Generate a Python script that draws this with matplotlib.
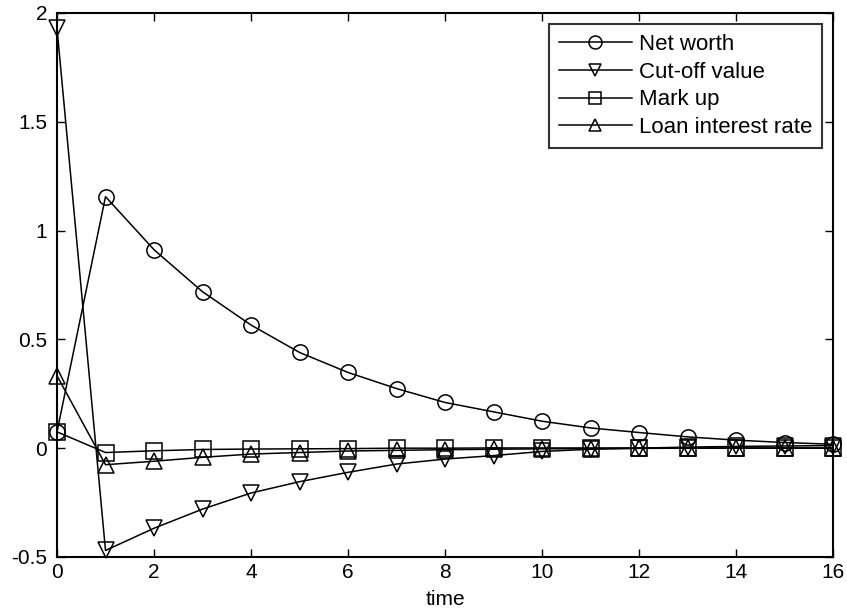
import matplotlib.pyplot as plt

# values
t = list(range(17))
net_worth = [0.075, 1.156, 0.912, 0.719, 0.566, 0.44, 0.348, 0.274, 0.21,
             0.167, 0.124, 0.093, 0.072, 0.052, 0.037, 0.026, 0.018]
cut_off = [1.93, -0.47, -0.368, -0.28, -0.206, -0.154, -0.111, -0.073, -0.05,
           -0.034, -0.015, -0.005, 0.0, 0.005, 0.008, 0.01, 0.012]
mark_up = [0.075, -0.02, -0.012, -0.006, -0.004, -0.003, -0.002, 0.0, 0.0,
           0.001, 0.001, 0.001, 0.001, 0.001, 0.001, 0.001, 0.001]
loan_rate = [0.333, -0.076, -0.06, -0.042, -0.027, -0.02, -0.013, -0.01, -0.007,
             -0.005, -0.003, -0.002, -0.001, 0.0, 0.0, 0.0, 0.0]

series = [
    ("Net worth", net_worth, "o"),
    ("Cut-off value", cut_off, "v"),
    ("Mark up", mark_up, "s"),
    ("Loan interest rate", loan_rate, "^"),
]

plt.rcParams['font.family'] = ['Liberation Sans', 'DejaVu Sans']

fig = plt.figure(figsize=(8.47, 6.12), dpi=100)
ax = fig.add_axes([0.0673, 0.0899, 0.9162, 0.8889])

for label, vals, mk in series:
    ax.plot(t, vals, color="black", linewidth=1.1, marker=mk, markersize=11,
            markerfacecolor="none", markeredgecolor="black", markeredgewidth=1.1,
            label=label, clip_on=False)

ax.set_xlim(0, 16)
ax.set_ylim(-0.5, 2)
ax.set_xticks(range(0, 17, 2))
ax.set_yticks([-0.5, 0, 0.5, 1, 1.5, 2])
ax.set_yticklabels(["-0.5", "0", "0.5", "1", "1.5", "2"])
ax.tick_params(direction="in", length=6, width=1, top=True, right=True,
               labelsize=15)
ax.tick_params(axis="x", pad=4)
ax.tick_params(axis="y", pad=7)
for s in ax.spines.values():
    s.set_linewidth(1.5)
ax.set_xlabel("time", fontsize=15, labelpad=6)

leg = ax.legend(loc="upper right", fontsize=16, frameon=True, fancybox=False,
                edgecolor="black", handlelength=3.3, handletextpad=0.3,
                labelspacing=0.3, borderpad=0.45, borderaxespad=0.5,
                markerscale=0.85)
leg.get_frame().set_linewidth(1.5)

fig.savefig("out.png", dpi=100)
